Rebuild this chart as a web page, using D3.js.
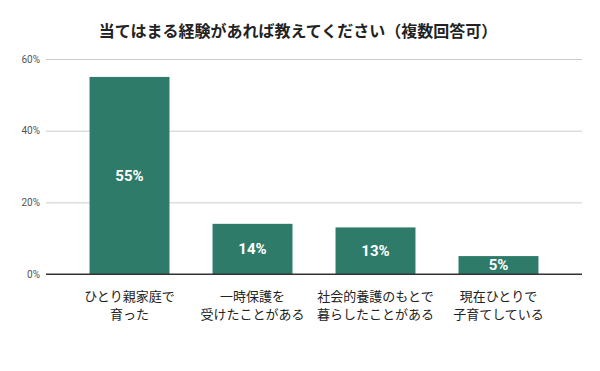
<!DOCTYPE html>
<html>
<head>
<meta charset="utf-8">
<script src="https://cdn.jsdelivr.net/npm/d3@7"></script>
<style>
  body { margin: 0; background: #fff; }
  svg { display: block; font-family: "Noto Sans CJK JP", "Noto Sans", sans-serif; }
</style>
</head>
<body>
<svg id="chart" width="600" height="371"></svg>
<script>
const title = "当てはまる経験があれば教えてください（複数回答可）";
const categories = [
  ["ひとり親家庭で", "育った"],
  ["一時保護を", "受けたことがある"],
  ["社会的養護のもとで", "暮らしたことがある"],
  ["現在ひとりで", "子育てしている"]
];
const values = [55, 14, 13, 5];
const yTicks = [0, 20, 40, 60];

const svg = d3.select("#chart");
const width = 600, height = 371;
const margin = { top: 59, right: 18, bottom: 97, left: 46 };

const x = d3.scaleBand()
  .domain(d3.range(categories.length))
  .range([margin.left, width - margin.right])
  .paddingInner(0.35)
  .paddingOuter(0.354);

const y = d3.scaleLinear()
  .domain([0, 60])
  .range([height - margin.bottom, margin.top]);

// title
svg.append("text")
  .attr("x", 298)
  .attr("y", 37)
  .attr("text-anchor", "middle")
  .attr("font-size", 16)
  .attr("font-weight", "bold")
  .attr("fill", "#222")
  .text(title);

// gridlines + y labels
const yAxis = svg.append("g")
  .attr("transform", `translate(${margin.left},0)`)
  .call(d3.axisLeft(y).tickValues(yTicks).tickFormat(d => d + "%")
    .tickSize(-(width - margin.left - margin.right)).tickPadding(6));
yAxis.select(".domain").remove();
yAxis.selectAll(".tick line").attr("stroke", d => d === 0 ? "#333" : "#ccc");
yAxis.selectAll(".tick text")
  .attr("fill", "#555")
  .attr("font-size", 10)
  .attr("font-family", "Roboto, sans-serif");

// bars
svg.append("g")
  .selectAll("rect")
  .data(values)
  .join("rect")
    .attr("x", (d, i) => x(i))
    .attr("y", d => y(d))
    .attr("width", x.bandwidth())
    .attr("height", d => y(0) - y(d))
    .attr("fill", "#2e7b69");

// baseline on top of bars
svg.append("line")
  .attr("x1", margin.left).attr("x2", width - margin.right)
  .attr("y1", y(0)).attr("y2", y(0))
  .attr("stroke", "#333");

// value labels
svg.append("g")
  .selectAll("text")
  .data(values)
  .join("text")
    .attr("x", (d, i) => x(i) + x.bandwidth() / 2)
    .attr("y", d => (y(d) + y(0)) / 2)
    .attr("dy", "0.36em")
    .attr("text-anchor", "middle")
    .attr("fill", "#fff")
    .attr("font-weight", "bold")
    .attr("font-size", 15)
    .attr("font-family", "Roboto, sans-serif")
    .text(d => d + "%");

// category labels
const cat = svg.append("g")
  .selectAll("text")
  .data(categories)
  .join("text")
    .attr("x", (d, i) => x(i) + x.bandwidth() / 2)
    .attr("y", 301)
    .attr("text-anchor", "middle")
    .attr("fill", "#222")
    .attr("font-size", 13);
cat.selectAll("tspan")
  .data(d => d)
  .join("tspan")
    .attr("x", function () { return this.parentNode.getAttribute("x"); })
    .attr("dy", (d, i) => i === 0 ? 0 : 18)
    .text(d => d);
</script>
</body>
</html>
